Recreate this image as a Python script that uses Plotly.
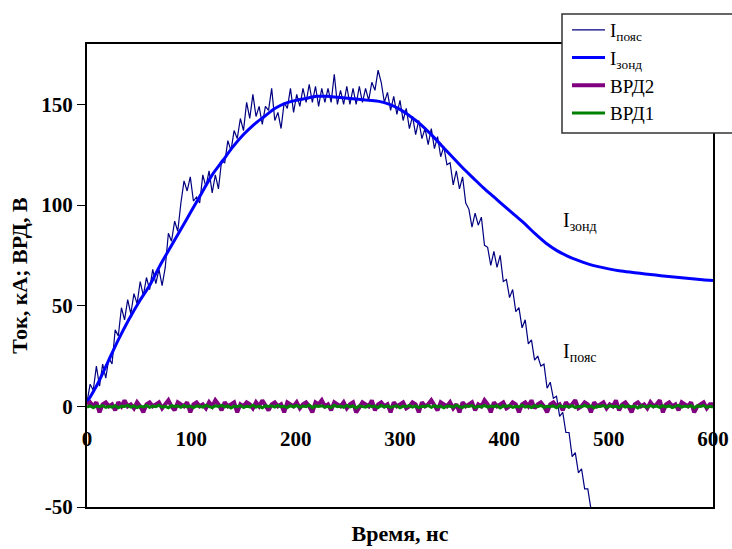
import numpy as np
import plotly.graph_objects as go

# Current waveforms: belt current (noisy), probe current (smooth), and two detector signals
t_poyas_step = 3
i_poyas = [2, 11, 8, 20, 10, 21, 14, 24, 21, 38, 35, 49, 43, 53, 46, 56, 51, 62, 55, 64,
           58, 68, 61, 68, 60, 69, 86, 82, 92, 87, 101, 112, 107, 114, 102, 104, 101, 115, 109, 117,
           106, 115, 108, 122, 121, 132, 127, 137, 133, 143, 137, 151, 143, 155, 144, 149, 140, 149, 147, 158,
           142, 146, 138, 151, 148, 158, 146, 155, 149, 158, 151, 160, 151, 159, 149, 158, 151, 158, 151, 165,
           150, 157, 150, 159, 150, 158, 150, 159, 151, 158, 152, 161, 157, 167, 161, 151, 156, 147, 154, 145,
           152, 142, 148, 138, 144, 135, 142, 133, 138, 130, 138, 128, 134, 124, 129, 120, 121, 110, 117, 108,
           114, 101, 98, 89, 96, 90, 94, 80, 79, 70, 77, 69, 75, 62, 63, 54, 58, 47, 49, 39,
           43, 31, 33, 23, 25, 20, 21, 9, 12, 4, 5, -5, -3, -13, -13, -25, -23, -33, -31, -41,
           -41, -51, -55]

t_zond = [0, 10, 20, 30, 40, 50, 60, 70, 80, 90, 100, 110, 120, 130, 140, 150, 160, 170, 180, 190,
          200, 210, 220, 230, 240, 250, 260, 270, 280, 290, 300, 310, 320, 330, 340, 350, 360, 370, 380, 390,
          400, 410, 420, 430, 440, 450, 460, 470, 480, 490, 500, 510, 520, 530, 540, 550, 560, 570, 580, 590, 600]
i_zond = [2, 11, 22, 33, 43, 52, 60, 70, 79, 88, 97, 106, 115, 122, 129, 135, 140, 144, 148, 150.5,
          152, 153, 154, 154, 153.5, 153, 152.5, 152, 151.5, 150, 147.5, 144, 140, 135, 129.5, 124, 118.5, 113.5, 108.5, 104,
          99.5, 95, 90.5, 85.5, 81, 77.5, 74.8, 72.6, 70.8, 69.4, 68.3, 67.4, 66.7, 66.1, 65.5, 64.9, 64.4, 63.9, 63.4, 62.9, 62.5]

t_vrd_step = 3
vrd2 = [1, 2, 0, 2, -3, 1, 2, 0, 1, -2, 2, 0, 3, 0, 1, -1, 2, 0, -3, 1,
        2, 0, 1, 2, -1, 1, 3, 0, -2, 2, 1, 0, 2, -3, 1, 2, 0, 1, -1, 2,
        0, 3, 1, -2, 2, 0, 1, 2, -3, 1, 0, 2, 1, -1, 2, 0, 3, 0, -2, 1,
        2, 0, 1, -3, 2, 1, 0, 2, -1, 1, 2, 0, -3, 2, 1, 3, 0, 1, -2, 2,
        1, 0, 2, -1, 1, 2, -3, 0, 2, 1, 0, 3, -2, 1, 2, 0, 1, -3, 2, 0,
        1, 2, -1, 0, 2, 1, -3, 2, 0, 1, 3, 0, -2, 2, 1, 0, 2, -1, 1, -3,
        2, 0, 1, 2, -2, 1, 0, 3, 1, -3, 2, 0, 1, 2, -1, 0, 2, 1, -3, 1,
        2, 0, 3, -1, 1, 2, 0, -3, 1, 2, 0, 1, -2, 2, 0, 1, 3, -1, 0, 2,
        1, -3, 2, 0, 1, 2, -1, 1, 0, 3, -2, 1, 2, 0, -3, 1, 2, 0, 1, -1,
        2, 0, 1, 3, -3, 1, 2, 0, 1, -2, 2, 1, 0, 2, -3, 0, 1, 2, -1, 1,
        1]
vrd1 = [-0.3, 0.2, -0.6, 0.1, -0.2, 0.4, -0.5, 0.0, -0.4, 0.3, -0.7, 0.1, -0.1, 0.5, -0.4, 0.2, -0.6, 0.0, -0.3, 0.4,
        -0.5, 0.1, -0.2, 0.6, -0.4, 0.0, -0.7, 0.3, -0.1, 0.2, -0.5, 0.4, -0.3, 0.1, -0.6, 0.2, 0.0, -0.4, 0.5, -0.2,
        -0.6, 0.3, -0.1, 0.5, -0.3, 0.2, -0.8, 0.1, -0.2, 0.4, -0.5, 0.0, -0.3, 0.6, -0.4, 0.1, -0.7, 0.2, -0.1, 0.3,
        -0.4, 0.5, -0.2, 0.0, -0.6, 0.3, -0.3, 0.4, -0.5, 0.1, -0.2, 0.6, -0.7, 0.2, -0.1, 0.3, -0.4, 0.0, -0.6, 0.5,
        -0.2, 0.1, -0.5, 0.4, -0.3, 0.2, -0.8, 0.3, 0.0, -0.4, 0.5, -0.2, 0.1, -0.6, 0.4, -0.3, 0.2, -0.5, 0.0, 0.3,
        -0.7, 0.1, -0.2, 0.5, -0.4, 0.2, -0.6, 0.0, -0.1, 0.4, -0.5, 0.3, -0.3, 0.1, -0.7, 0.2, 0.0, -0.4, 0.6, -0.2,
        -0.5, 0.3, -0.1, 0.4, -0.6, 0.0, -0.3, 0.5, -0.4, 0.1, -0.2, 0.3, -0.8, 0.2, -0.1, 0.4, -0.5, 0.0, -0.3, 0.6,
        -0.4, 0.1, -0.6, 0.3, -0.2, 0.5, -0.5, 0.0, -0.1, 0.2, -0.7, 0.4, -0.3, 0.1, -0.4, 0.3, -0.6, 0.0, -0.2, 0.5,
        -0.3, 0.2, -0.7, 0.1, -0.1, 0.4, -0.5, 0.3, -0.2, 0.0, -0.6, 0.5, -0.4, 0.2, -0.3, 0.1, -0.8, 0.3, 0.0, -0.4,
        0.4, -0.2, 0.1, -0.5, 0.3, -0.3, 0.2, -0.6, 0.0, 0.5, -0.4, 0.1, -0.2, 0.3, -0.7, 0.2, -0.1, 0.4, -0.5, 0.0,
        -0.3]

x_ticks = [0, 100, 200, 300, 400, 500, 600]
y_ticks = [-50, 0, 50, 100, 150]
x_range = [0, 600]
y_range = [-50, 180]

t_poyas = np.arange(len(i_poyas)) * t_poyas_step
t_vrd2 = np.arange(len(vrd2)) * t_vrd_step
t_vrd1 = np.arange(len(vrd1)) * t_vrd_step

serif = "Liberation Serif, Times New Roman, serif"

fig = go.Figure()
fig.add_trace(go.Scatter(x=t_poyas, y=i_poyas, mode="lines", name="I<sub>пояс</sub>",
                         line=dict(color="#000080", width=1.2)))
fig.add_trace(go.Scatter(x=t_zond, y=i_zond, mode="lines", name="I<sub>зонд</sub>",
                         line=dict(color="#0000FF", width=3, shape="spline", smoothing=0.8)))
fig.add_trace(go.Scatter(x=t_vrd2, y=vrd2, mode="lines", name="ВРД2",
                         line=dict(color="#800080", width=4)))
fig.add_trace(go.Scatter(x=t_vrd1, y=vrd1, mode="lines", name="ВРД1", xaxis="x2",
                         line=dict(color="#008000", width=3)))

zero_pos = (0 - y_range[0]) / (y_range[1] - y_range[0])

# plot area in pixels: left 87, right 713, top 44, bottom 507
plot_w, plot_h = 626, 463

fig.update_layout(
    width=732, height=549,
    margin=dict(l=87, r=19, t=44, b=42, autoexpand=False),
    paper_bgcolor="white", plot_bgcolor="white",
    font=dict(family=serif, color="black"),
    xaxis=dict(range=x_range, showgrid=False, zeroline=False, showticklabels=False,
               showline=True, linecolor="black", linewidth=2, mirror=True, ticks="",
               title=dict(text="<b>Время, нс</b>", font=dict(size=22, family=serif), standoff=18)),
    xaxis2=dict(range=x_range, overlaying="x", anchor="free", position=zero_pos,
                tickvals=x_ticks, ticktext=[f"<b>{v}</b>" for v in x_ticks],
                tickfont=dict(size=21, family=serif), showgrid=False, zeroline=False,
                showline=False, ticks="", ticklabelstandoff=18),
    yaxis=dict(range=y_range, tickvals=y_ticks, ticktext=[f"<b>{v}</b>" for v in y_ticks],
               tickfont=dict(size=21, family=serif), showgrid=False, zeroline=False,
               showline=True, linecolor="black", linewidth=2, mirror=True,
               ticks="outside", ticklen=8, tickwidth=1, tickcolor="black",
               title=dict(text="<b>Ток, кА; ВРД, В</b>", font=dict(size=22, family=serif), standoff=8)),
    legend=dict(x=(567 - 87) / plot_w, y=(507 - 11) / plot_h, xanchor="left", yanchor="top",
                bgcolor="rgba(0,0,0,0)", borderwidth=0,
                font=dict(size=19, family=serif), tracegroupgap=0, itemwidth=33),
    showlegend=True,
)

# legend frame: white box running off the right edge of the page
fig.add_shape(type="rect", xref="paper", yref="paper", layer="above",
              x0=(562 - 87) / plot_w, x1=(745 - 87) / plot_w,
              y0=(507 - 133) / plot_h, y1=(507 - 14) / plot_h,
              fillcolor="white", line=dict(color="#333333", width=1.5))

fig.add_annotation(x=454, y=92, xref="x", yref="y", text="I<sub>зонд</sub>", showarrow=False,
                   xanchor="left", font=dict(size=20, family=serif))
fig.add_annotation(x=454, y=27, xref="x", yref="y", text="I<sub>пояс</sub>", showarrow=False,
                   xanchor="left", font=dict(size=20, family=serif))

fig.write_html("out.html")
